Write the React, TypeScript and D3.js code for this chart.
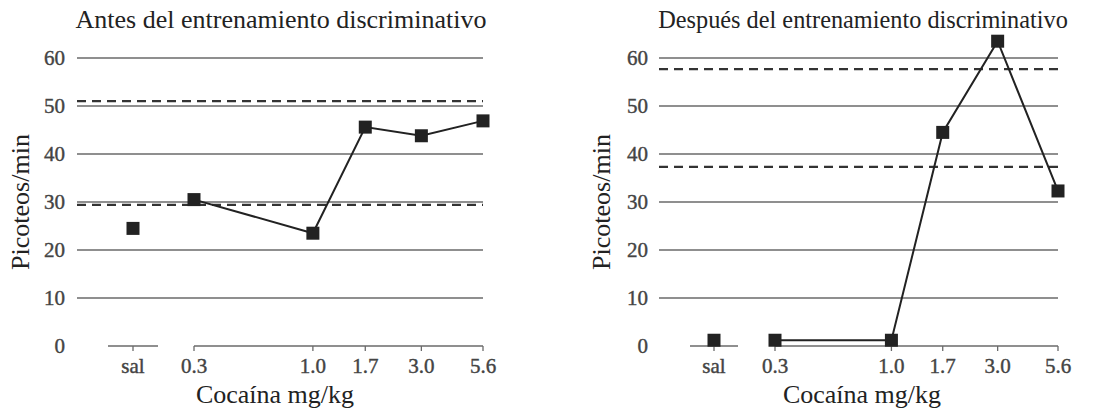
import React from "react";
import * as d3 from "d3";

const doses = [0.3, 1.0, 1.7, 3.0, 5.6];
const doseLabels = ["0.3", "1.0", "1.7", "3.0", "5.6"];
const yTicks = [0, 10, 20, 30, 40, 50, 60];

const beforeSal = 24.5;
const beforeValues = [30.5, 23.5, 45.6, 43.8, 46.9];
const beforeDashed = [51.0, 29.4];

const afterSal = 1.2;
const afterValues = [1.2, 1.2, 44.5, 63.5, 32.3];
const afterDashed = [57.7, 37.3];

const titles = ["Antes del entrenamiento discriminativo", "Después del entrenamiento discriminativo"];
const yLabel = "Picoteos/min";
const xLabel = "Cocaína mg/kg";

const FONT = '"Liberation Serif", "Times New Roman", Times, "DejaVu Serif", serif';

type PanelProps = {
  gridL: number;
  gridR: number;
  axisStart: number;
  salX: number;
  salHalf: number;
  sal: number;
  values: number[];
  dashed: number[];
  title: string;
  titleX: number;
  titleSize: number;
  xLabelX: number;
  yLabelX: number;
  tickLabelRight: number;
};

function Panel(p: PanelProps) {
  const y = d3.scaleLinear().domain([0, 60]).range([346, 58]);
  const x = d3.scaleLog().domain([0.3, 5.6]).range([p.axisStart, p.gridR]);
  const line = d3
    .line<number>()
    .x((_, i) => x(doses[i]))
    .y((v) => y(v));
  const ms = 13;
  const gray = "#6a6a6a";
  const ink = "#222";
  const tickFill = "#444";
  const ts = { fontFamily: FONT } as React.CSSProperties;
  return (
    <g style={ts}>
      <text x={p.titleX} y={28} fontSize={p.titleSize} textAnchor="middle" fill="#222" style={ts}>
        {p.title}
      </text>
      {yTicks.filter((t) => t > 0).map((t) => (
        <line key={t} x1={p.gridL} x2={p.gridR} y1={y(t)} y2={y(t)} stroke={gray} strokeWidth={1.3} />
      ))}
      {p.dashed.map((v, i) => (
        <line key={"d" + i} x1={p.gridL} x2={p.gridR} y1={y(v)} y2={y(v)} stroke="#333" strokeWidth={2.2} strokeDasharray="9,6" />
      ))}
      {yTicks.map((t) => (
        <text key={"l" + t} x={p.tickLabelRight} y={y(t) + 7} fontSize={21} textAnchor="end" fill={tickFill} stroke={tickFill} strokeWidth={0.4} style={ts}>
          {t}
        </text>
      ))}
      {/* sal axis segment */}
      <line x1={p.salX - p.salHalf} x2={p.salX + p.salHalf} y1={y(0)} y2={y(0)} stroke={gray} strokeWidth={1.3} />
      <line x1={p.salX} x2={p.salX} y1={y(0)} y2={y(0) + 5} stroke={gray} strokeWidth={1.3} />
      <text x={p.salX} y={373} fontSize={21} textAnchor="middle" fill={tickFill} stroke={tickFill} strokeWidth={0.4} style={ts}>sal</text>
      {/* dose axis */}
      <line x1={x(0.3)} x2={x(5.6)} y1={y(0)} y2={y(0)} stroke={gray} strokeWidth={1.3} />
      {doses.map((d, i) => (
        <g key={"t" + i}>
          <line x1={x(d)} x2={x(d)} y1={y(0)} y2={y(0) + 5} stroke={gray} strokeWidth={1.3} />
          <text x={x(d)} y={373} fontSize={21} textAnchor="middle" fill={tickFill} stroke={tickFill} strokeWidth={0.4} style={ts}>
            {doseLabels[i]}
          </text>
        </g>
      ))}
      <text x={p.xLabelX} y={403} fontSize={26} textAnchor="middle" fill="#222" style={ts}>
        {xLabel}
      </text>
      <text
        transform={`translate(${p.yLabelX},202) rotate(-90)`}
        fontSize={26}
        textAnchor="middle"
        fill="#222"
        style={ts}
      >
        {yLabel}
      </text>
      <path d={line(p.values) || ""} fill="none" stroke={ink} strokeWidth={2} />
      <rect x={p.salX - ms / 2} y={y(p.sal) - ms / 2} width={ms} height={ms} fill={ink} />
      {p.values.map((v, i) => (
        <rect key={"m" + i} x={x(doses[i]) - ms / 2} y={y(v) - ms / 2} width={ms} height={ms} fill={ink} />
      ))}
    </g>
  );
}

export default function App() {
  return (
    <svg width={1094} height={410} style={{ position: "absolute", left: 0, top: 0, background: "#fff" }}>
      <rect width={1094} height={410} fill="#fff" />
      <Panel
        gridL={77}
        gridR={483}
        axisStart={194}
        salX={133}
        salHalf={25}
        sal={beforeSal}
        values={beforeValues}
        dashed={beforeDashed}
        title={titles[0]}
        titleX={281}
        titleSize={26}
        xLabelX={275}
        yLabelX={29}
        tickLabelRight={65}
      />
      <Panel
        gridL={659}
        gridR={1058}
        axisStart={775}
        salX={714}
        salHalf={24}
        sal={afterSal}
        values={afterValues}
        dashed={afterDashed}
        title={titles[1]}
        titleX={863}
        titleSize={24.3}
        xLabelX={862}
        yLabelX={610}
        tickLabelRight={648}
      />
    </svg>
  );
}
